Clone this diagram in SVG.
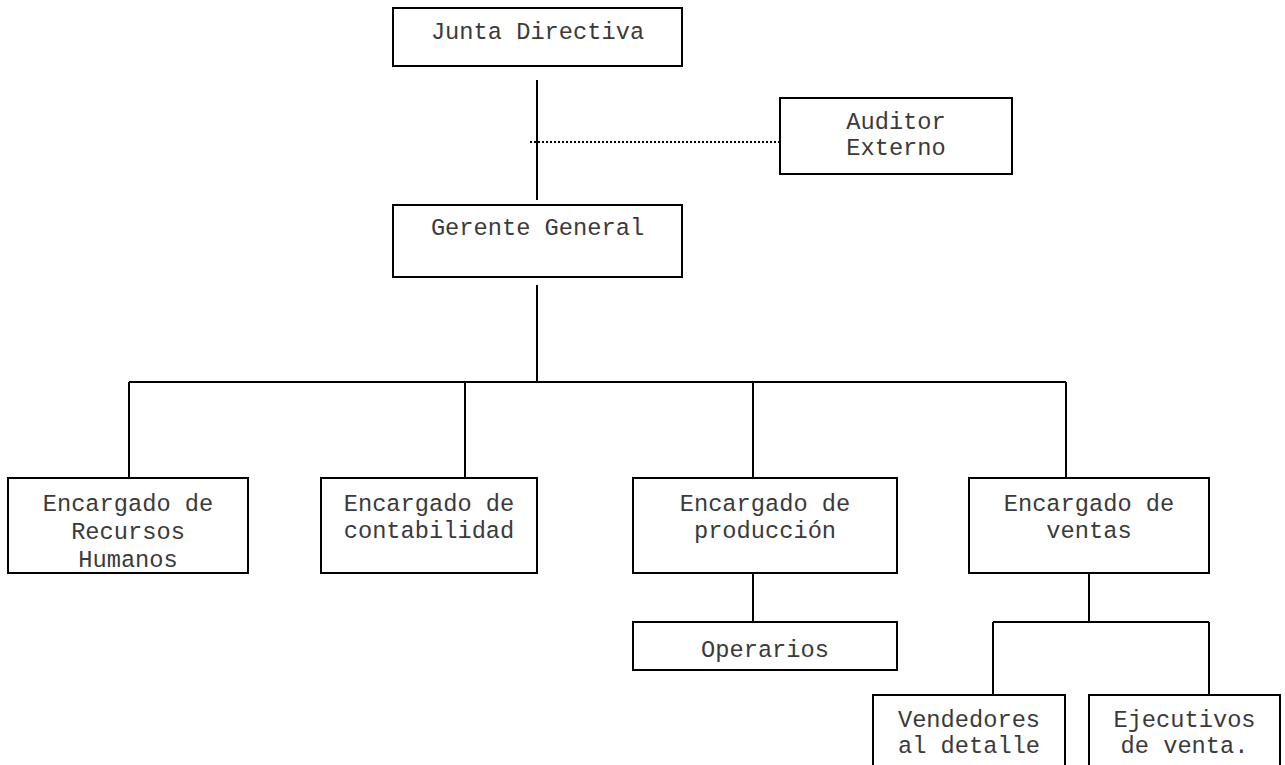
<svg xmlns="http://www.w3.org/2000/svg" width="1285" height="765" viewBox="0 0 1285 765">
<style>
.box{fill:#fff;stroke:#000;stroke-width:2}
.ln{fill:none;stroke:#000;stroke-width:2}
.dot{fill:none;stroke:#000;stroke-width:2;stroke-dasharray:2 2}
text{font-family:"Liberation Mono","Courier New",monospace;font-size:23.7px;fill:#3a3a3a;text-anchor:middle}
</style>
<rect width="1285" height="765" fill="#fff"/>
<g id="connectors">
<path class="ln" d="M537 80V200M537 285V382M129 382H1066M129 382V478M465 382V478M753 382V478M1066 382V478M753 573V622M1089 573V622M993 622H1209M993 622V695M1209 622V695"/>
<path class="dot" d="M530 142H780"/>
</g>
<g id="junta"><rect class="box" x="393" y="8" width="289" height="58"/><text x="537.5" y="39">Junta Directiva</text></g>
<g id="auditor"><rect class="box" x="780" y="98" width="232" height="76"/><text x="896" y="129">Auditor</text><text x="896" y="155">Externo</text></g>
<g id="gerente"><rect class="box" x="393" y="205" width="289" height="72"/><text x="537.5" y="235">Gerente General</text></g>
<g id="rrhh"><rect class="box" x="8" y="478" width="240" height="95"/><text x="128" y="511">Encargado de</text><text x="128" y="539">Recursos</text><text x="128" y="567">Humanos</text></g>
<g id="contabilidad"><rect class="box" x="321" y="478" width="216" height="95"/><text x="429" y="511">Encargado de</text><text x="429" y="538">contabilidad</text></g>
<g id="produccion"><rect class="box" x="633" y="478" width="264" height="95"/><text x="765" y="511">Encargado de</text><text x="765" y="538">producción</text></g>
<g id="ventas"><rect class="box" x="969" y="478" width="240" height="95"/><text x="1089" y="511">Encargado de</text><text x="1089" y="538">ventas</text></g>
<g id="operarios"><rect class="box" x="633" y="622" width="264" height="48"/><text x="765" y="657">Operarios</text></g>
<g id="vendedores"><rect class="box" x="873" y="695" width="192" height="85"/><text x="969" y="727">Vendedores</text><text x="969" y="753">al detalle</text></g>
<g id="ejecutivos"><rect class="box" x="1089" y="695" width="191" height="85"/><text x="1184.5" y="727">Ejecutivos</text><text x="1184.5" y="753">de venta.</text></g>
</svg>
